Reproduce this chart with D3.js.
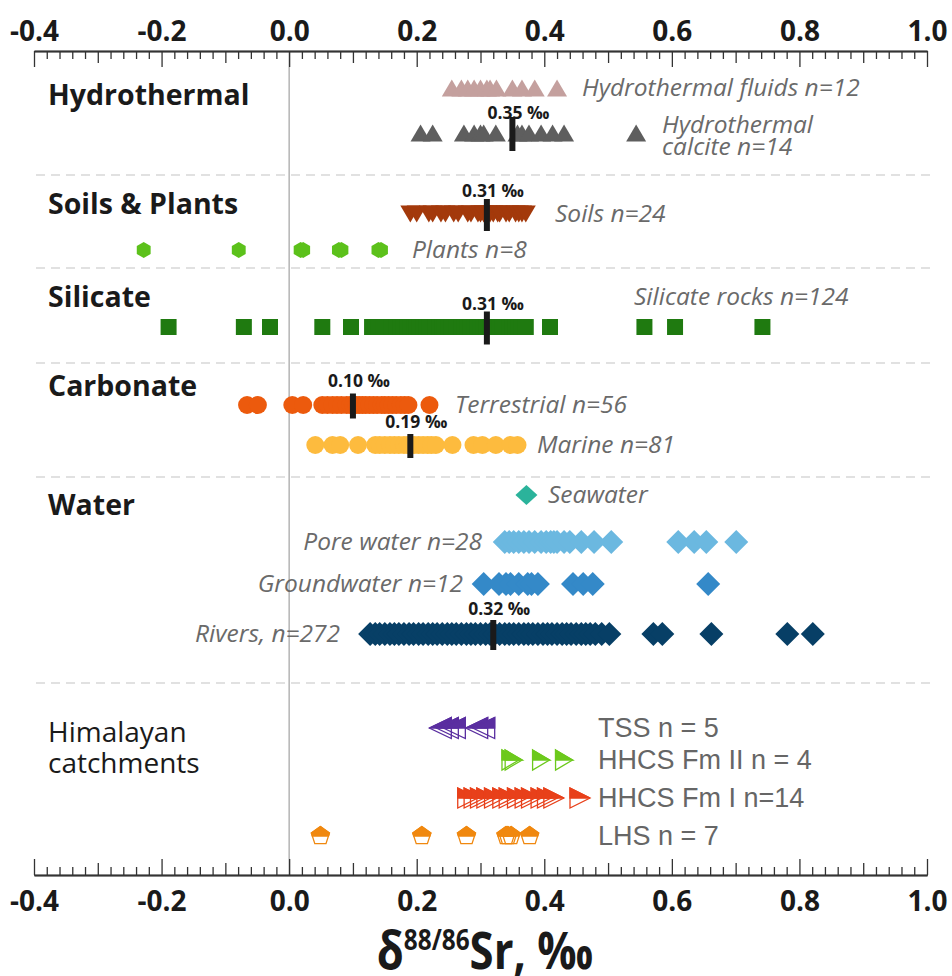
<!DOCTYPE html>
<html><head><meta charset="utf-8">
<script src="https://cdn.jsdelivr.net/npm/d3@7/dist/d3.min.js"></script>
<style>body{margin:0;background:#fff;} svg{display:block;}</style>
</head><body><svg id="c" width="952" height="976"></svg>
<script>
// ---------------- data (δ88/86Sr, ‰) ----------------
const xTicks = [-0.4, -0.2, 0.0, 0.2, 0.4, 0.6, 0.8, 1.0];

const fluids = [0.255, 0.27, 0.28, 0.29, 0.30, 0.31, 0.315, 0.325, 0.35, 0.365, 0.385, 0.42];
const calcite = [0.206, 0.225, 0.274, 0.29, 0.30, 0.305, 0.324, 0.358, 0.365, 0.376, 0.395, 0.413, 0.431, 0.544];
const soils = [0.19, 0.20, 0.219, 0.225, 0.238, 0.245, 0.258, 0.265, 0.28, 0.285, 0.296, 0.30, 0.305, 0.311, 0.315, 0.32, 0.327, 0.33, 0.34, 0.345, 0.355, 0.36, 0.365, 0.371];
const plants = [-0.228, -0.079, 0.018, 0.022, 0.078, 0.082, 0.140, 0.144];
const silicate = [-0.189, -0.071, -0.030, 0.052, 0.097,
  0.130, 0.135, 0.14, 0.148, 0.155, 0.16, 0.168, 0.175, 0.18, 0.186, 0.19, 0.197, 0.20, 0.205, 0.21, 0.215,
  0.22, 0.224, 0.23, 0.235, 0.24, 0.244, 0.25, 0.255, 0.26, 0.263, 0.27, 0.275, 0.28, 0.284, 0.29, 0.295,
  0.30, 0.305, 0.31, 0.315, 0.32, 0.325, 0.33, 0.335, 0.34, 0.345, 0.35, 0.355, 0.36, 0.365, 0.371,
  0.409, 0.557, 0.605, 0.742];
const terrestrial = [-0.066, -0.049, 0.005, 0.022, 0.052, 0.06, 0.068, 0.075, 0.082, 0.09, 0.096, 0.10, 0.105,
  0.11, 0.115, 0.12, 0.126, 0.132, 0.138, 0.145, 0.15, 0.156, 0.162, 0.168, 0.175, 0.181, 0.187, 0.22];
const marine = [0.041, 0.068, 0.08, 0.108, 0.135, 0.142, 0.15, 0.158, 0.165, 0.172, 0.18, 0.186, 0.19, 0.196,
  0.203, 0.21, 0.217, 0.223, 0.23, 0.256, 0.289, 0.303, 0.324, 0.347, 0.358];
const seawater = [0.372];
const porewater = [0.338, 0.345, 0.352, 0.36, 0.368, 0.376, 0.385, 0.395, 0.403, 0.41, 0.415, 0.42, 0.431,
  0.44, 0.458, 0.478, 0.505, 0.61, 0.635, 0.654, 0.701];
const groundwater = [0.305, 0.329, 0.34, 0.347, 0.36, 0.374, 0.38, 0.39, 0.445, 0.461, 0.476, 0.657];
const rivers = [0.127, 0.135, 0.142, 0.15, 0.158, 0.165, 0.172, 0.18, 0.188, 0.195, 0.203, 0.21, 0.218, 0.225,
  0.232, 0.24, 0.248, 0.255, 0.262, 0.27, 0.278, 0.285, 0.292, 0.30, 0.308, 0.315, 0.322, 0.33, 0.338, 0.345,
  0.352, 0.36, 0.368, 0.375, 0.382, 0.39, 0.398, 0.405, 0.412, 0.42, 0.428, 0.435, 0.442, 0.45, 0.458, 0.465,
  0.472, 0.48, 0.49, 0.502, 0.571, 0.585, 0.662, 0.781, 0.821];
const tss = [0.237, 0.248, 0.259, 0.294, 0.305];
const hhcs2 = [0.347, 0.352, 0.395, 0.431];
const hhcs1 = [0.28, 0.29, 0.30, 0.31, 0.322, 0.335, 0.345, 0.358, 0.37, 0.38, 0.395, 0.405, 0.415, 0.456];
const lhs = [0.049, 0.208, 0.278, 0.34, 0.343, 0.348, 0.377];

const medianSeries = ["calcite", "soils", "silicate", "terrestrial", "marine", "rivers"];
const medianValues = [0.35, 0.31, 0.31, 0.10, 0.19, 0.32];

const groupNames = ["Hydrothermal", "Soils & Plants", "Silicate", "Carbonate", "Water"];
const seriesLabels = {
  fluids: "Hydrothermal fluids n=12",
  calcite: ["Hydrothermal", "calcite n=14"],
  soils: "Soils n=24",
  plants: "Plants n=8",
  silicate: "Silicate rocks n=124",
  terrestrial: "Terrestrial n=56",
  marine: "Marine n=81",
  seawater: "Seawater",
  porewater: "Pore water n=28",
  groundwater: "Groundwater n=12",
  rivers: "Rivers, n=272"
};
const himalayaLabels = ["TSS n = 5", "HHCS Fm II n = 4", "HHCS Fm I n=14", "LHS n = 7"];

// ---------------- layout / styles ----------------
const svg = d3.select("#c");
const x = d3.scaleLinear().domain([-0.4, 1.0]).range([34, 927]);
const yTop = 51, yBot = 875;

const seriesData = {fluids, calcite, soils, plants, silicate, terrestrial, marine, seawater, porewater, groundwater, rivers, tss, hhcs2, hhcs1, lhs};
const rowY = {fluids: 88, calcite: 133, soils: 214, plants: 250, silicate: 327, terrestrial: 405, marine: 445,
  seawater: 495, porewater: 542, groundwater: 584, rivers: 634, tss: 728, hhcs2: 760, hhcs1: 798, lhs: 836};
const style = {
  fluids: {shape: "triUp", color: "#c4a09e"},
  calcite: {shape: "triUp", color: "#5e5e5e"},
  soils: {shape: "triDown", color: "#a3390b"},
  plants: {shape: "hex", color: "#5cc11b"},
  silicate: {shape: "square", color: "#1f7a10"},
  terrestrial: {shape: "circle", color: "#ec5a0d"},
  marine: {shape: "circle", color: "#fdbb3e"},
  seawater: {shape: "diamondS", color: "#2bb39b"},
  porewater: {shape: "diamond", color: "#6bb8e0"},
  groundwater: {shape: "diamond", color: "#3489c8"},
  rivers: {shape: "diamond", color: "#073f66"},
  tss: {shape: "triLeft", color: "#5a2ea0", half: true},
  hhcs2: {shape: "triRight2", color: "#6cc91c", half: true},
  hhcs1: {shape: "triRight", color: "#e8401a", half: true},
  lhs: {shape: "pent", color: "#f0880f", half: true}
};
function shapePts(name) {
  switch (name) {
    case "triUp": return [[0, -8.5], [10, 8.5], [-10, 8.5]];
    case "triDown": return [[-10, -8.5], [10, -8.5], [0, 8.5]];
    case "hex": return d3.range(6).map(k => { const a = (-90 + 60 * k) * Math.PI / 180; return [8 * Math.cos(a), 8 * Math.sin(a)]; });
    case "square": return [[-8, -8], [8, -8], [8, 8], [-8, 8]];
    case "diamond": return [[0, -12], [12, 0], [0, 12], [-12, 0]];
    case "diamondS": return [[0, -10], [11, 0], [0, 10], [-11, 0]];
    case "triLeft": return [[-11, 0], [11, -10.5], [11, 10.5]];
    case "triRight": return [[-10, -10], [10, 0], [-10, 10]];
    case "triRight2": return [[-8.5, -10], [8.5, 0], [-8.5, 10]];
    case "pent": return d3.range(5).map(k => { const a = (-90 + 72 * k) * Math.PI / 180; return [9.5 * Math.cos(a), 9.5 * Math.sin(a)]; });
  }
}
function clipTop(pts) {
  const out = [], n = pts.length;
  for (let i = 0; i < n; i++) {
    const a = pts[i], b = pts[(i + 1) % n];
    const ain = a[1] <= 0, bin = b[1] <= 0;
    if (ain) out.push(a);
    if (ain !== bin) { const t = a[1] / (a[1] - b[1]); out.push([a[0] + t * (b[0] - a[0]), 0]); }
  }
  return out;
}
const poly = pts => "M" + pts.map(p => p[0].toFixed(2) + "," + p[1].toFixed(2)).join("L") + "Z";

// separators
const sepY = [175, 268, 363, 477, 683];
svg.append("g").selectAll("line").data(sepY).join("line")
  .attr("x1", 36).attr("x2", 935).attr("y1", d => d).attr("y2", d => d)
  .attr("stroke", "#c4c4c4").attr("stroke-width", 1.2).attr("stroke-dasharray", "9,6");

// zero line
svg.append("line").attr("x1", x(0)).attr("x2", x(0)).attr("y1", yTop).attr("y2", yBot)
  .attr("stroke", "#a8a8a8").attr("stroke-width", 1.3);

// axes
const minorT = d3.range(-20, 51).map(i => i / 50).filter(v => Math.round(v * 50) % 5 !== 0);
const midT = d3.range(-4, 11).map(i => i / 10).filter(v => Math.round(v * 10) % 2 !== 0);
function drawAxis(gen, y) {
  const g = svg.append("g").attr("transform", `translate(0,${y})`);
  g.append("g").call(gen(x).tickValues(minorT).tickSizeInner(-8).tickSizeOuter(0).tickFormat(""));
  g.append("g").call(gen(x).tickValues(midT).tickSizeInner(-12).tickSizeOuter(0).tickFormat(""));
  g.append("g").call(gen(x).tickValues(xTicks).tickSizeInner(-16).tickSizeOuter(0)
    .tickPadding(10).tickFormat(d => d.toFixed(1)));
  g.selectAll("path.domain").attr("stroke", "#333").attr("stroke-width", 1.4);
  g.selectAll(".tick line").attr("stroke", "#333").attr("stroke-width", 1.3);
  g.selectAll(".tick text").attr("font-family", "'Open Sans', sans-serif").attr("font-weight", 700)
    .attr("font-size", 28).attr("fill", "#1a1a1a");
  return g;
}
drawAxis(d3.axisTop, yTop);
const gb = drawAxis(d3.axisBottom, yBot);
gb.selectAll(".tick text").attr("dy", null).attr("y", 36);

// markers
Object.keys(seriesData).forEach(key => {
  const st = style[key], pts = shapePts(st.shape);
  const g = svg.append("g");
  const sel = g.selectAll("g").data(seriesData[key]).join("g")
    .attr("transform", d => `translate(${x(d)},${rowY[key]})`);
  if (st.half) {
    sel.append("path").attr("d", poly(pts)).attr("fill", "none").attr("stroke", st.color).attr("stroke-width", 1.3);
    sel.append("path").attr("d", poly(clipTop(pts))).attr("fill", st.color).attr("stroke", st.color).attr("stroke-width", 1.3);
  } else if (st.shape === "circle") {
    sel.append("circle").attr("r", 9).attr("fill", st.color);
  } else {
    sel.append("path").attr("d", poly(pts)).attr("fill", st.color);
  }
});

// medians
const barLen = {calcite: 34, soils: 32, silicate: 33, terrestrial: 25, marine: 24, rivers: 30};
const medLabelBase = {calcite: 119, soils: 197, silicate: 310, terrestrial: 387, marine: 428, rivers: 615};
const mg = svg.append("g");
medianSeries.forEach((key, i) => {
  const v = medianValues[i], cx = x(v), cy = rowY[key];
  mg.append("rect").attr("x", cx - 3).attr("y", cy - barLen[key] / 2 + 1).attr("width", 6).attr("height", barLen[key])
    .attr("fill", "#1a1a1a");
  mg.append("text").attr("x", cx + 6).attr("y", medLabelBase[key]).attr("text-anchor", "middle")
    .attr("font-family", "'Open Sans', sans-serif").attr("font-weight", 700).attr("font-size", 17.5)
    .attr("fill", "#1a1a1a").text(v.toFixed(2) + " ‰");
});

// series labels (italic)
const labPos = {
  fluids: [582, "start"], calcite: [662, "start"], soils: [555, "start"], plants: [412, "start"],
  silicate: [634, "start", 297], terrestrial: [455, "start"], marine: [537, "start"], seawater: [548, "start"],
  porewater: [482, "end"], groundwater: [463, "end"], rivers: [340, "end"]
};
const lg = svg.append("g").attr("font-family", "'Open Sans', sans-serif").attr("font-style", "italic")
  .attr("font-size", 24.5).attr("fill", "#6a6a6a");
Object.keys(seriesLabels).forEach(key => {
  const [lx, anchor, ly] = labPos[key];
  const lab = seriesLabels[key];
  if (Array.isArray(lab)) {
    lg.append("text").attr("x", lx).attr("y", rowY[key] + 0).attr("text-anchor", anchor).text(lab[0]);
    lg.append("text").attr("x", lx).attr("y", rowY[key] + 22).attr("text-anchor", anchor).text(lab[1]);
  } else {
    lg.append("text").attr("x", lx).attr("y", (ly || rowY[key]) + 8).attr("text-anchor", anchor).text(lab);
  }
});

// group labels
const groupY = [105, 214, 307, 396, 515];
svg.append("g").selectAll("text").data(groupNames).join("text")
  .attr("x", 48).attr("y", (d, i) => groupY[i])
  .attr("font-family", "'Open Sans', sans-serif").attr("font-weight", 700).attr("font-size", 28.5)
  .attr("fill", "#1a1a1a").text(d => d);
const hg = svg.append("g").attr("font-family", "'Open Sans', sans-serif").attr("font-size", 28).attr("fill", "#1a1a1a");
hg.append("text").attr("x", 48).attr("y", 742).text("Himalayan");
hg.append("text").attr("x", 48).attr("y", 773).text("catchments");

// himalayan labels
const hKeys = ["tss", "hhcs2", "hhcs1", "lhs"];
svg.append("g").selectAll("text").data(himalayaLabels).join("text")
  .attr("x", 598).attr("y", (d, i) => rowY[hKeys[i]] + 9)
  .attr("font-family", "'Liberation Sans', Arial, sans-serif").attr("font-size", 27)
  .attr("fill", "#666").text(d => d);

// axis title
const tt = svg.append("text").attr("transform", "translate(485,969) scale(0.84,1)").attr("text-anchor", "middle")
  .attr("font-family", "'Open Sans', sans-serif").attr("font-weight", 700).attr("font-size", 52).attr("fill", "#1a1a1a");
tt.append("tspan").text("δ");
tt.append("tspan").attr("font-size", 29).attr("dy", -19).text("88/86");
tt.append("tspan").attr("dy", 19).text("Sr, ‰");
</script></body></html>
